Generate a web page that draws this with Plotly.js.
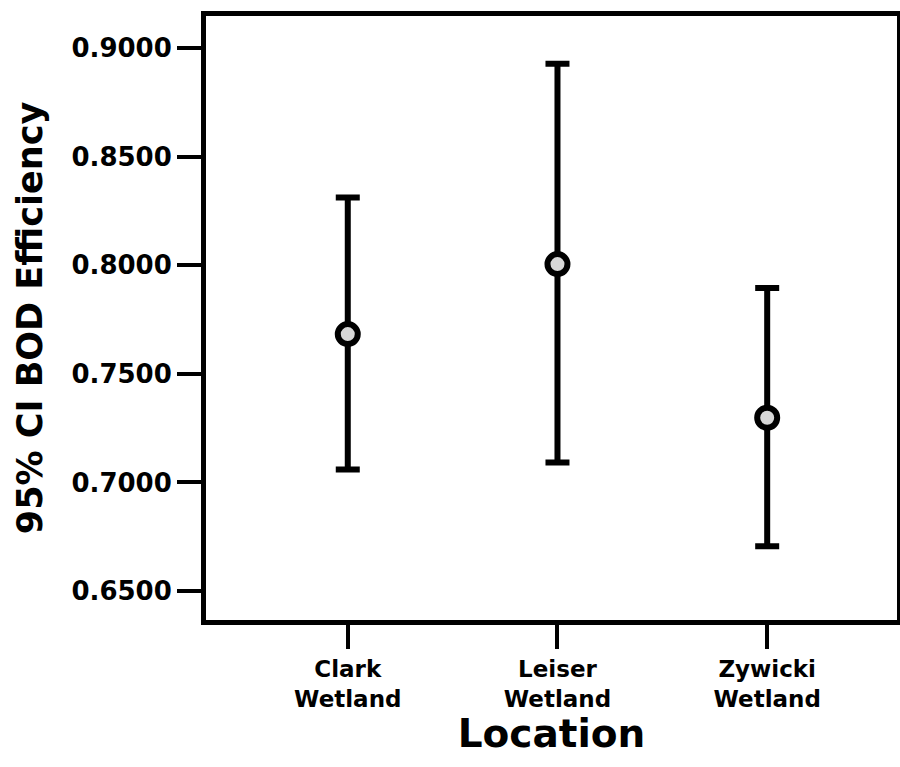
<!DOCTYPE html>
<html>
<head>
<meta charset="utf-8">
<script src="https://cdn.plot.ly/plotly-3.0.1.min.js"></script>
<style>
html,body{margin:0;padding:0;background:#fff;}
#chart{width:900px;height:767px;}
</style>
</head>
<body>
<div id="chart"></div>
<script>
const categories = ["Clark<br>Wetland", "Leiser<br>Wetland", "Zywicki<br>Wetland"];
const meanValues = [0.7683, 0.8005, 0.7298];
const upperCI = [0.8312, 0.8927, 0.7895];
const lowerCI = [0.7060, 0.7092, 0.6706];
const yTickValues = [0.65, 0.70, 0.75, 0.80, 0.85, 0.90];
const yTickLabels = ["0.6500", "0.7000", "0.7500", "0.8000", "0.8500", "0.9000"];

const errPlus = upperCI.map((u, i) => u - meanValues[i]);
const errMinus = lowerCI.map((l, i) => meanValues[i] - l);

const trace = {
  type: "scatter",
  mode: "markers",
  x: categories,
  y: meanValues,
  marker: {symbol: "circle", size: 20, color: "#d8d8d8", line: {color: "#000", width: 6}},
  error_y: {type: "data", symmetric: false, array: errPlus, arrayminus: errMinus,
            color: "#000", thickness: 6, width: 12},
  hoverinfo: "skip",
  showlegend: false
};

const tickFont = {family: "DejaVu Sans", size: 26, color: "#000", weight: "bold"};

const layout = {
  width: 900, height: 767,
  margin: {l: 206, r: 3, t: 16, b: 147},
  paper_bgcolor: "#fff", plot_bgcolor: "#fff",
  xaxis: {
    type: "category",
    range: [-0.676, 2.619],
    showline: true, linecolor: "#000", linewidth: 5, mirror: true,
    showgrid: false, zeroline: false,
    ticks: "outside", ticklen: 24, tickwidth: 4, tickcolor: "#000",
    tickfont: {family: "DejaVu Sans", size: 23, color: "#000", weight: "bold"},
    title: {text: "Location", font: {family: "DejaVu Sans", size: 39, color: "#000", weight: "bold"}, standoff: 7}
  },
  yaxis: {
    range: [0.6367, 0.9147],
    tickvals: yTickValues, ticktext: yTickLabels,
    showline: true, linecolor: "#000", linewidth: 5, mirror: true,
    showgrid: false, zeroline: false,
    ticks: "outside", ticklen: 24, tickwidth: 4, tickcolor: "#000",
    tickfont: tickFont,
    title: {text: "95% CI BOD Efficiency", font: {family: "DejaVu Sans", size: 35, color: "#000", weight: "bold"}, standoff: 20}
  }
};

Plotly.newPlot("chart", [trace], layout, {displayModeBar: false, staticPlot: true});
</script>
</body>
</html>
